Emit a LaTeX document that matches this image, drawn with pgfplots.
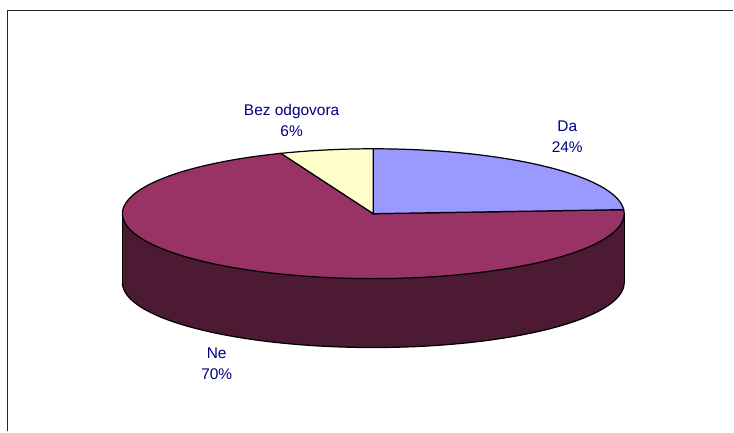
\documentclass[border=0pt]{standalone}
\usepackage{pgfplots}
\pgfplotsset{compat=1.18}
\usepackage{pgfplotstable}
\usepackage{fontspec}
\setmainfont{Liberation Sans}
\definecolor{cDa}{HTML}{9999FF}
\definecolor{cNe}{HTML}{993366}
\definecolor{cNeSide}{HTML}{4C1A33}
\definecolor{cBez}{HTML}{FFFFCC}
\definecolor{lbl}{HTML}{000080}

\pgfplotstableread{
label value
Da 24
Bez 6
Ne 70
}\piedata

\begin{document}
\begin{tikzpicture}
\pgfplotstablegetelem{0}{value}\of\piedata \let\vDa\pgfplotsretval
\pgfplotstablegetelem{1}{value}\of\piedata \let\vBez\pgfplotsretval
\pgfplotstablegetelem{2}{value}\of\piedata \let\vNe\pgfplotsretval
\pgfmathsetmacro\aDa{90-3.6*\vDa}
\pgfmathsetmacro\aBez{90+3.6*\vBez}
\pgfmathsetmacro\aNeEnd{\aBez+3.6*\vNe}
\begin{axis}[scale only axis, width=14.68cm, height=8.64cm,
  xmin=0, xmax=734, ymin=0, ymax=432, hide axis, clip=false]
\path (0,0) rectangle (734,432);
% frame
\draw[line width=1.1pt, color=black!85] (7.5,0) -- (7.5,421.5) -- (734,421.5);
% side wall (front)
\addplot[fill=cNeSide, draw=none, domain=180:360, samples=120]
  ({373.8+251.2*cos(x)},{149+65*sin(x)}) -- (625,218) -- (122.6,218) -- cycle;
\addplot[black, line width=0.7pt, domain=180:360, samples=120]
  ({373.8+251.2*cos(x)},{149+65*sin(x)});
\draw[black, line width=0.7pt] (122.6,149) -- (122.6,218) (625,149) -- (625,218);
% top face slices
\addplot[fill=cNe, draw=black, line width=0.7pt, domain=\aBez:\aNeEnd, samples=200]
  ({373.8+251.2*cos(x)},{218+65*sin(x)}) -- (373.8,218) -- cycle;
\addplot[fill=cDa, draw=black, line width=0.7pt, domain=\aDa:90, samples=80]
  ({373.8+251.2*cos(x)},{218+65*sin(x)}) -- (373.8,218) -- cycle;
\addplot[fill=cBez, draw=black, line width=0.7pt, domain=90:\aBez, samples=30]
  ({373.8+251.2*cos(x)},{218+65*sin(x)}) -- (373.8,218) -- cycle;
% labels
\node[align=center, text=lbl, font=\fontsize{8.8}{12}\selectfont] at (292,311) {Bez odgovora\\6\%};
\node[align=center, text=lbl, font=\fontsize{8.8}{12}\selectfont] at (568,295) {Da\\24\%};
\node[align=center, text=lbl, font=\fontsize{8.8}{12}\selectfont] at (217,68) {Ne\\70\%};
\end{axis}
\end{tikzpicture}
\end{document}
